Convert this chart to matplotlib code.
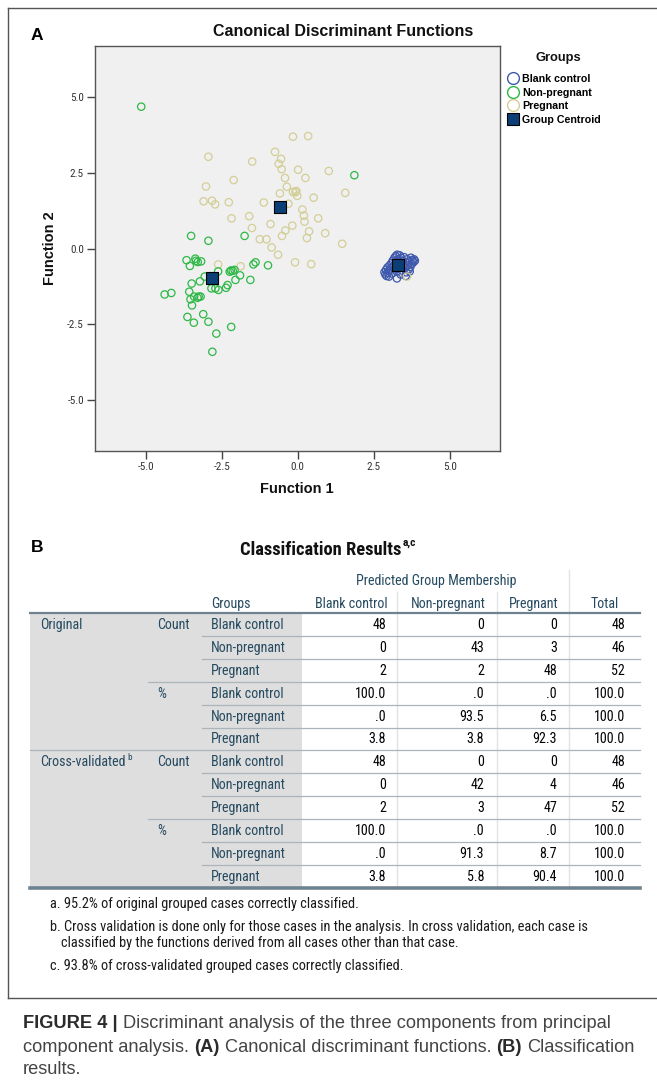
import matplotlib
matplotlib.use('Agg')
import matplotlib.pyplot as plt
from matplotlib import font_manager as fm
from matplotlib.lines import Line2D

# ---------------- data ----------------
blank_x = [2.85, 2.88, 2.90, 2.92, 2.95, 2.97, 3.00, 3.02, 3.05, 3.08, 3.10, 3.12, 3.15, 3.18, 3.20, 3.22,
           3.25, 3.27, 3.30, 3.32, 3.35, 3.37, 3.40, 3.42, 3.45, 3.47, 3.50, 3.52, 3.55, 3.57, 3.60, 3.62,
           3.65, 3.67, 3.70, 3.72, 3.75, 3.77, 3.80, 3.82, 3.26, 3.00, 3.25, 3.38, 3.55, 3.68, 3.85, 3.30]
blank_y = [-0.78, -0.85, -0.70, -0.90, -0.62, -0.80, -0.72, -0.55, -0.65, -0.48, -0.82, -0.40, -0.58, -0.30, -0.68, -0.25,
           -0.45, -0.20, -0.35, -0.62, -0.22, -0.50, -0.30, -0.72, -0.40, -0.58, -0.28, -0.65, -0.45, -0.78, -0.35, -0.55,
           -0.68, -0.42, -0.60, -0.30, -0.50, -0.38, -0.45, -0.35, -0.98, -0.92, -0.75, -0.85, -0.90, -0.75, -0.40, -0.55]

nonpreg_x = [-5.15, 1.86, -3.51, -2.94, -1.75, -3.66, -3.55, -3.37, -3.29, -3.18,
             -1.46, -1.39, -0.98, -2.62, -2.24, -2.14, -2.08, -1.90, -2.05, -1.56,
             -3.06, -3.49, -3.22, -2.84, -2.71, -2.61, -2.36, -2.31, -3.57, -4.38,
             -4.16, -3.53, -3.41, -3.26, -3.20, -3.48, -3.63, -3.42, -3.11, -2.94,
             -2.68, -2.19, -2.81, -3.35, -3.30, -2.20]
nonpreg_y = [4.68, 2.42, 0.42, 0.26, 0.42, -0.38, -0.57, -0.33, -0.44, -0.42,
             -0.52, -0.45, -0.55, -0.75, -0.76, -0.73, -0.70, -0.88, -1.03, -1.03,
             -0.92, -1.15, -1.08, -1.31, -1.31, -1.36, -1.29, -1.20, -1.42, -1.51,
             -1.46, -1.67, -1.58, -1.58, -1.58, -1.87, -2.25, -2.44, -2.16, -2.41,
             -2.80, -2.58, -3.40, -0.40, -1.62, -0.72]

preg_x = [-0.16, 0.34, -2.94, -1.50, -0.75, -0.55, -0.63, -0.53, 0.01, 1.02, -0.42, 0.25, -2.11,
          -3.02, -0.36, -0.16, -0.08, -0.02, -0.59, 0.52, 1.56, -3.10, -2.82, -2.72, -2.27, -1.12,
          -0.31, 0.15, 0.20, 0.22, 0.67, -2.18, -1.60, -0.90, -0.18, -1.51, -0.41, -0.52, 0.37,
          0.30, 0.90, -1.25, -1.03, -0.86, -0.65, 1.46, -0.09, 0.44, -2.62, -1.88, 3.59, -0.05]
preg_y = [3.69, 3.71, 3.03, 2.87, 3.19, 2.96, 2.80, 2.62, 2.60, 2.56, 2.33, 2.33, 2.26,
          2.05, 2.04, 1.87, 1.86, 1.74, 1.82, 1.68, 1.84, 1.56, 1.58, 1.46, 1.53, 1.52,
          1.48, 1.29, 1.09, 0.89, 1.00, 1.00, 1.07, 0.81, 0.76, 0.68, 0.60, 0.42, 0.57,
          0.35, 0.51, 0.31, 0.31, 0.04, -0.20, 0.16, -0.45, -0.51, -0.52, -0.58, -0.92, 1.90]

centroid_x = [3.31, -2.81, -0.58]
centroid_y = [-0.54, -0.97, 1.38]

axis_ticks = [-5.0, -2.5, 0.0, 2.5, 5.0]
legend_labels = ['Blank control', 'Non-pregnant', 'Pregnant', 'Group Centroid']

groups = ['Blank control', 'Non-pregnant', 'Pregnant']
col_headers = ['Blank control', 'Non-pregnant', 'Pregnant', 'Total']
orig_count = [[48, 0, 0, 48], [0, 43, 3, 46], [2, 2, 48, 52]]
orig_pct = [[100.0, 0.0, 0.0, 100.0], [0.0, 93.5, 6.5, 100.0], [3.8, 3.8, 92.3, 100.0]]
cv_count = [[48, 0, 0, 48], [0, 42, 4, 46], [2, 3, 47, 52]]
cv_pct = [[100.0, 0.0, 0.0, 100.0], [0.0, 91.3, 8.7, 100.0], [3.8, 5.8, 90.4, 100.0]]

footnotes = ['a. 95.2% of original grouped cases correctly classified.',
             'b. Cross validation is done only for those cases in the analysis. In cross validation, each case is',
             'classified by the functions derived from all cases other than that case.',
             'c. 93.8% of cross-validated grouped cases correctly classified.']

# ---------------- style ----------------
C_BLANK = '#3e58ac'
C_NONP = '#2eb848'
C_PREG = '#d3ce97'
C_CENT = '#0b3f75'
C_LBL = '#264a60'
C_DAT = '#010205'

W, H, DPI = 657, 1089, 100
names = {f.name for f in fm.fontManager.ttflist}
SANS = 'Liberation Sans'

# pick a condensed face if one is installed
NARROW, NSTRETCH, NARROW_OK = SANS, 'normal', False
for c in ['Liberation Sans Narrow', 'Roboto Condensed', 'Open Sans Condensed', 'Arial Narrow',
          'DejaVu Sans Condensed', 'Noto Sans Condensed']:
    if c in names:
        NARROW, NARROW_OK = c, True
        break
if not NARROW_OK:
    for f in fm.fontManager.ttflist:
        if f.name in ('Noto Sans', 'Open Sans', 'Roboto', 'DejaVu Sans') and \
                str(f.stretch) in ('condensed', 'semi-condensed') and f.weight in ('normal', 400, 'regular'):
            NARROW, NSTRETCH, NARROW_OK = f.name, str(f.stretch), True
            break

fig = plt.figure(figsize=(W / DPI, H / DPI), dpi=DPI)
fig.patch.set_facecolor('white')
bg = fig.add_axes([0, 0, 1, 1])
bg.set_xlim(0, W)
bg.set_ylim(H, 0)
bg.axis('off')
renderer = fig.canvas.get_renderer()


def width_px(s, size, family, weight='normal', stretch='normal'):
    t = bg.text(0, 0, s, fontsize=size, family=family, fontweight=weight, fontstretch=stretch)
    w = t.get_window_extent(renderer).width
    t.remove()
    return w


def fit(s, target, family, weight='normal', stretch='normal'):
    return 10.0 * target / width_px(s, 10, family, weight, stretch)


def T(x, y, s, size, color='black', weight='normal', ha='left', va='center', family=SANS,
      stretch='normal', **kw):
    return bg.text(x, y, s, fontsize=size, color=color, fontweight=weight, ha=ha, va=va,
                   family=family, fontstretch=stretch, **kw)


def TN(x, y, s, size, **kw):
    return T(x, y, s, size, family=NARROW, stretch=NSTRETCH, **kw)


NBOOST = 1.0 if NARROW_OK else 1.06

# outer frame
bg.plot([8, 8], [8, 998], color='#555555', lw=1)
bg.plot([8, W], [8, 8], color='#555555', lw=1)
bg.plot([8, W], [998, 998], color='#555555', lw=1)

# ---------------- panel A ----------------
T(37, 35, 'A', 12.5, weight='bold', ha='center')
T(343, 32, 'Canonical Discriminant Functions', fit('Canonical Discriminant Functions', 259, SANS, 'bold'),
  weight='bold', ha='center', color='#111111')

ax = fig.add_axes([95 / W, 1 - 450.7 / H, 405 / W, 404.7 / H])
ax.set_facecolor('#f0f0f0')
for sp in ax.spines.values():
    sp.set_color('#555555')
    sp.set_linewidth(1.0)
MS = 28
ax.scatter(blank_x, blank_y, s=MS, facecolors='none', edgecolors=C_BLANK, linewidths=0.9, zorder=2)
ax.scatter(nonpreg_x, nonpreg_y, s=MS, facecolors='none', edgecolors=C_NONP, linewidths=0.9, zorder=3)
ax.scatter(preg_x, preg_y, s=MS, facecolors='none', edgecolors=C_PREG, linewidths=0.9, zorder=2.5)
ax.scatter(centroid_x, centroid_y, s=64, marker='s', facecolors=C_CENT, edgecolors='black',
           linewidths=0.8, zorder=4)
ax.set_xlim(-6.67, 6.65)
ax.set_ylim(-6.66, 6.68)
ax.set_xticks(axis_ticks)
ax.set_yticks(axis_ticks)
tick_size = 8.0
ax.set_xticklabels(['%.1f' % v for v in axis_ticks], fontsize=tick_size, family=NARROW,
                   fontstretch=NSTRETCH, color='#333333')
ax.set_yticklabels(['%.1f' % v for v in axis_ticks], fontsize=tick_size, family=NARROW,
                   fontstretch=NSTRETCH, color='#333333')
ax.tick_params(direction='out', length=6, width=1, color='#444444', pad=2)

lab_size = fit('Function 1', 74, SANS, 'bold')
T(297, 489, 'Function 1', lab_size, weight='bold', ha='center', color='#111111')
T(50, 248, 'Function 2', lab_size, weight='bold', ha='center', color='#111111', rotation=90)

# legend
T(558, 58, 'Groups', fit('Groups', 46, SANS, 'bold'), weight='bold', ha='center', color='#111111')
handles = [Line2D([], [], marker='o', ls='none', mfc='none', mec=C_BLANK, ms=8.5, mew=1.0),
           Line2D([], [], marker='o', ls='none', mfc='none', mec=C_NONP, ms=8.5, mew=1.0),
           Line2D([], [], marker='o', ls='none', mfc='none', mec=C_PREG, ms=8.5, mew=1.0),
           Line2D([], [], marker='s', ls='none', mfc=C_CENT, mec='black', ms=8.5, mew=0.8)]
leg_size = fit('Blank control', 68, SANS, 'bold')
leg = ax.legend(handles, legend_labels, loc='upper left', bbox_to_anchor=(508 / W, 1 - 74 / H),
                bbox_transform=fig.transFigure, frameon=False,
                prop={'family': SANS, 'weight': 'bold', 'size': leg_size},
                handlelength=0.9, handletextpad=0.4, labelspacing=0.29, borderpad=0,
                borderaxespad=0, handleheight=1.0)

# ---------------- panel B ----------------
T(37, 548, 'B', 12.5, weight='bold', ha='center')
ttl_size = fit('Classification Results', 162, NARROW, 'bold', NSTRETCH)
t = TN(321, 550, 'Classification Results', ttl_size, weight='bold', ha='center', color='#111111')
ext = t.get_window_extent(renderer)
TN(ext.x1 + 0.5, 543, 'a,c', ttl_size * 0.62, weight='bold', ha='left', color='#111111')

tab_size = fit('Blank control', 73, NARROW, 'normal', NSTRETCH) * NBOOST
TOP, RH = 613.0, 22.9
XL, XG, XR = 30, 301.5, 640
col_right = [386, 484, 557, 625]
col_center = [351, 448, 534, 605]
vlines = [396.5, 496.5, 569]

bg.add_patch(plt.Rectangle((XL, TOP), XG - XL, 12 * RH, facecolor='#dedede', edgecolor='none', zorder=0))
bg.plot([vlines[0]] * 2, [592, TOP + 12 * RH], color='#dfe3e5', lw=1, zorder=1)
bg.plot([vlines[1]] * 2, [592, TOP + 12 * RH], color='#dfe3e5', lw=1, zorder=1)
bg.plot([vlines[2]] * 2, [570, TOP + 12 * RH], color='#dfe3e5', lw=1, zorder=1)
for k in range(1, 12):
    y = TOP + k * RH
    if k == 6:
        xs = XL
    elif k % 3 == 0:
        xs = 147.7
    else:
        xs = 201.7
    bg.plot([xs, XR], [y, y], color='#aab4b9', lw=0.9, zorder=1)
bg.plot([XL, XR], [TOP, TOP], color='#6f8290', lw=1.6, zorder=2)
bg.plot([XL, XR], [TOP + 12 * RH, TOP + 12 * RH], color='#6f8290', lw=2.6, zorder=2)

TN(436, 581, 'Predicted Group Membership', tab_size, color=C_LBL, ha='center')
TN(211, 604, 'Groups', tab_size, color=C_LBL)
for cx, h in zip(col_center, col_headers):
    TN(cx, 604, h, tab_size, color=C_LBL, ha='center')


def fmt_pct(v):
    s = '%.1f' % v
    return s[1:] if s.startswith('0.') else s


blocks = [(orig_count, str), (orig_pct, fmt_pct), (cv_count, str), (cv_pct, fmt_pct)]
row = 0
for bi, (mat, f) in enumerate(blocks):
    for gi, g in enumerate(groups):
        yc = TOP + (row + 0.5) * RH + 0.5
        TN(211, yc, g, tab_size, color=C_LBL)
        for cr, v in zip(col_right, mat[gi]):
            TN(cr, yc, f(v), tab_size, color=C_DAT, ha='right')
        if gi == 0:
            TN(157, yc, 'Count' if bi % 2 == 0 else '%', tab_size, color=C_LBL)
            if bi == 0:
                TN(40, yc, 'Original', tab_size, color=C_LBL)
            if bi == 2:
                tt = TN(40, yc, 'Cross-validated', tab_size, color=C_LBL)
                e2 = tt.get_window_extent(renderer)
                TN(e2.x1 + 1.5, yc - 5, 'b', tab_size * 0.65, color=C_LBL)
        row += 1

fn_size = fit(footnotes[1], 537, NARROW, 'normal', NSTRETCH)
TN(50, 904, footnotes[0], fn_size, color='#1a1a1a')
TN(50, 927, footnotes[1], fn_size, color='#1a1a1a')
TN(61, 943, footnotes[2], fn_size, color='#1a1a1a')
TN(50, 966, footnotes[3], fn_size, color='#1a1a1a')

# caption
cap_lines = [[('FIGURE 4 |', 'bold'), (' ', 'normal'), ('Discriminant analysis of the three components from principal', 'normal')],
             [('component analysis.', 'normal'), (' ', 'normal'), ('(A)', 'bold'), (' ', 'normal'),
              ('Canonical discriminant functions.', 'normal'), (' ', 'normal'), ('(B)', 'bold'), (' ', 'normal'),
              ('Classification', 'normal')],
             [('results.', 'normal')]]
cap_size = fit('FIGURE 4 | Discriminant analysis of the three components from principal', 589, SANS)
space_w = width_px('x x', cap_size, SANS) - width_px('xx', cap_size, SANS)
for segs, yb in zip(cap_lines, [1028, 1052, 1074]):
    x = 23
    for s, wgt in segs:
        if s == ' ':
            x += space_w
            continue
        col = '#2b2b2b' if wgt == 'bold' else '#444444'
        tt = T(x, yb, s, cap_size, color=col, weight=wgt, va='baseline')
        x = tt.get_window_extent(renderer).x1

fig.savefig('out.png', dpi=DPI, facecolor='white')
